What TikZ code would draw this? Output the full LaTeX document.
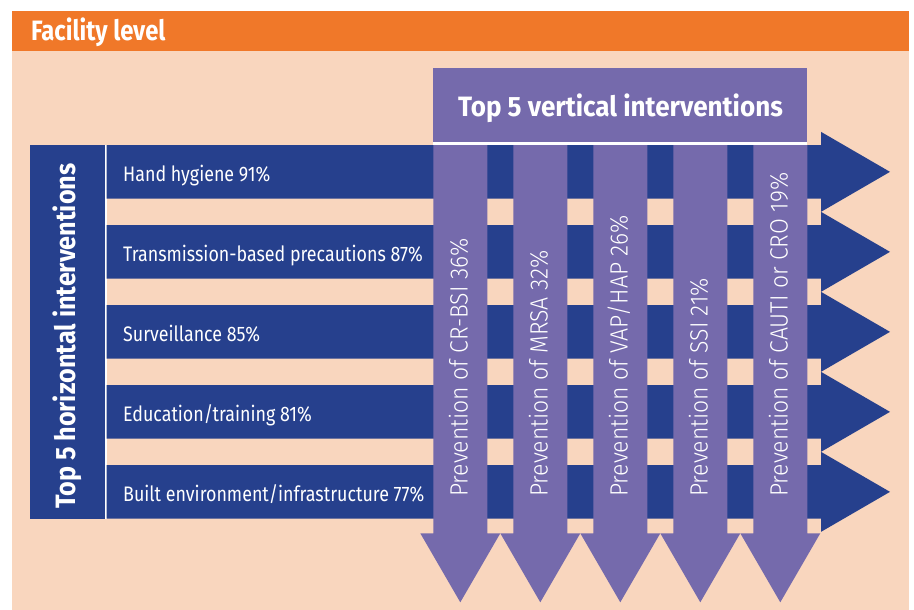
\documentclass[tikz,border=0pt]{standalone}
\usepackage{fontspec}
\setmainfont{Fira Sans}
\newfontfamily\condfont[FakeStretch=0.85]{Fira Sans}
\newfontfamily\vertfont[FakeStretch=0.92]{Fira Sans Light}
\newfontfamily\titfont[FakeStretch=0.93]{Fira Sans}
\newfontfamily\htitfont[FakeStretch=0.90]{Fira Sans}
\definecolor{hdrorange}{RGB}{240,120,41}
\definecolor{peach}{RGB}{249,214,190}
\definecolor{darkblue}{RGB}{38,64,141}
\definecolor{purp}{RGB}{117,106,172}
\tikzset{
  rowtext/.style={anchor=base west, text=white, inner sep=0pt, font=\condfont\fontsize{21}{21}\selectfont},
  coltext/.style={anchor=base west, rotate=90, text=white, inner sep=0pt, font=\vertfont\fontsize{25}{25}\selectfont},
  hshape/.style={fill=darkblue, draw=none},
  vshape/.style={fill=purp, draw=none},
}
\begin{document}
\begin{tikzpicture}[x=1pt,y=-1pt]
\useasboundingbox (0,0) rectangle (914,610);
\fill[white] (0,0) rectangle (914,610);
% background
\fill[peach] (12,11) rectangle (909,610);
\fill[hdrorange] (12,11) rectangle (909,51);
\node[anchor=base west, text=white, inner sep=0pt, font=\condfont\bfseries\fontsize{28}{28}\selectfont] (facility) at (31,40.5) {Facility level};
% left title column
\fill[darkblue] (30,145) rectangle (104.5,519);
\fill[white] (104.5,145) rectangle (106.7,519);
\node[anchor=base west, rotate=90, text=white, inner sep=0pt, font=\htitfont\bfseries\fontsize{28}{28}\selectfont] (htitle) at (75.5,509) {Top 5 horizontal interventions};
% horizontal arrows
\foreach \i in {0,...,4}{
  \pgfmathsetmacro{\yt}{145+80*\i}
  \pgfmathsetmacro{\yb}{\yt+53.7}
  \pgfmathsetmacro{\ym}{\yt+26.85}
  \fill[hshape] (106.7,\yt) -- (821,\yt) -- (821,\ym-40) -- (890,\ym) -- (821,\ym+40) -- (821,\yb) -- (106.7,\yb) -- cycle;
}
\node[rowtext] (r1) at (123,181.7) {Hand hygiene 91\%};
\node[rowtext] (r2) at (123,261.7) {Transmission-based precautions 87\%};
\node[rowtext] (r3) at (123,341.7) {Surveillance 85\%};
\node[rowtext] (r4) at (123,421.7) {Education/training 81\%};
\node[rowtext] (r5) at (123,501.7) {Built environment/infrastructure 77\%};
% vertical header
\fill[purp] (433.3,68.3) rectangle (807.3,142);
\fill[white] (433.3,142) rectangle (807.3,145);
\node[text=white, inner sep=0pt, font=\titfont\bfseries\fontsize{28}{28}\selectfont, anchor=base] (vtitle) at (620.5,116.7) {Top 5 vertical interventions};
% vertical arrows
\foreach \j in {0,...,4}{
  \pgfmathsetmacro{\xl}{433.3+80*\j}
  \pgfmathsetmacro{\xr}{\xl+54}
  \pgfmathsetmacro{\xm}{\xl+27}
  \fill[vshape] (\xl,145) -- (\xr,145) -- (\xr,533.3) -- (\xm+40,533.3) -- (\xm,602.3) -- (\xm-40,533.3) -- (\xl,533.3) -- cycle;
}
\node[coltext] (c1) at (467.5,497) {Prevention of CR-BSI 36\%};
\node[coltext] (c2) at (547.5,497) {Prevention of MRSA 32\%};
\node[coltext] (c3) at (627.5,497) {Prevention of VAP/HAP 26\%};
\node[coltext] (c4) at (707.5,497) {Prevention of SSI 21\%};
\node[coltext] (c5) at (787.5,497) {Prevention of CAUTI or CRO 19\%};
\end{tikzpicture}
\end{document}
